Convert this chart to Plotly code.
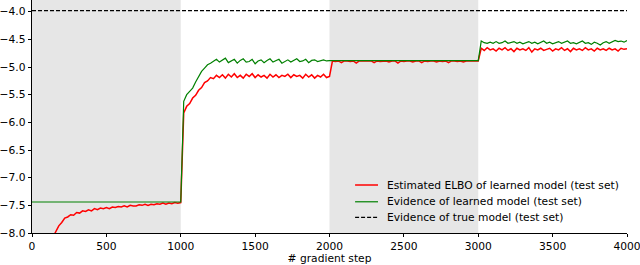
import plotly.graph_objects as go

# ---- data ----
elbo_steps = list(range(140, 4001, 20))
elbo = [
    # 140 .. 1000
    -8.08, -7.96, -7.87, -7.81, -7.73, -7.71, -7.67, -7.68, -7.63, -7.64,
    -7.60, -7.61, -7.58, -7.60, -7.56, -7.58, -7.55, -7.56, -7.54, -7.56,
    -7.53, -7.54, -7.52, -7.53, -7.51, -7.53, -7.50, -7.51, -7.51, -7.49,
    -7.50, -7.48, -7.50, -7.48, -7.49, -7.47, -7.48, -7.46, -7.48, -7.46,
    -7.47, -7.45, -7.46, -7.45,
    # 1020 .. 2000
    -5.83, -5.71, -5.66, -5.56, -5.51, -5.42, -5.37, -5.28, -5.25, -5.19,
    -5.21, -5.15, -5.19, -5.14, -5.20, -5.13, -5.18, -5.12, -5.19, -5.15,
    -5.20, -5.13, -5.17, -5.12, -5.19, -5.14, -5.18, -5.15, -5.20, -5.13,
    -5.18, -5.14, -5.19, -5.15, -5.17, -5.13, -5.19, -5.14, -5.17, -5.15,
    -5.20, -5.13, -5.18, -5.14, -5.20, -5.15, -5.18, -5.13, -5.19, -5.17,
    # 2020 .. 3000
    -4.89, -4.90, -4.89, -4.92, -4.89, -4.89, -4.90, -4.89, -4.93, -4.89,
    -4.89, -4.90, -4.89, -4.89, -4.92, -4.89, -4.90, -4.89, -4.89, -4.91,
    -4.89, -4.89, -4.93, -4.89, -4.90, -4.89, -4.89, -4.91, -4.89, -4.89,
    -4.92, -4.89, -4.90, -4.89, -4.89, -4.91, -4.89, -4.90, -4.89, -4.92,
    -4.89, -4.89, -4.90, -4.89, -4.91, -4.89, -4.89, -4.90, -4.89, -4.89,
    # 3020 .. 4000
    -4.66, -4.70, -4.65, -4.69, -4.67, -4.71, -4.66, -4.69, -4.65, -4.70,
    -4.67, -4.72, -4.66, -4.69, -4.67, -4.70, -4.65, -4.73, -4.67, -4.69,
    -4.66, -4.70, -4.68, -4.66, -4.71, -4.67, -4.69, -4.65, -4.70, -4.67,
    -4.72, -4.66, -4.69, -4.67, -4.70, -4.65, -4.69, -4.67, -4.71, -4.66,
    -4.69, -4.67, -4.70, -4.66, -4.69, -4.67, -4.71, -4.66, -4.68, -4.67,
]

evidence_steps = [0, 1000] + list(range(1020, 2001, 20)) + [3000] + list(range(3020, 4001, 20))
evidence = [
    -7.44, -7.44,
    # 1020 .. 2000
    -5.62, -5.50, -5.44, -5.38, -5.27, -5.16, -5.08, -5.02, -4.96, -4.93,
    -4.90, -4.86, -4.91, -4.88, -4.84, -4.92, -4.89, -4.86, -4.93, -4.88,
    -4.85, -4.91, -4.90, -4.86, -4.94, -4.89, -4.87, -4.92, -4.88, -4.85,
    -4.91, -4.89, -4.86, -4.93, -4.90, -4.87, -4.91, -4.88, -4.85, -4.90,
    -4.89, -4.86, -4.92, -4.88, -4.87, -4.90, -4.88, -4.87, -4.89, -4.885,
    # 3000
    -4.885,
    # 3020 .. 4000
    -4.53, -4.56, -4.57, -4.55, -4.57, -4.54, -4.57, -4.56, -4.53, -4.57,
    -4.56, -4.54, -4.57, -4.55, -4.58, -4.56, -4.54, -4.57, -4.55, -4.58,
    -4.56, -4.53, -4.57, -4.55, -4.58, -4.56, -4.54, -4.57, -4.55, -4.53,
    -4.57, -4.56, -4.58, -4.55, -4.53, -4.57, -4.56, -4.59, -4.55, -4.57,
    -4.60, -4.56, -4.54, -4.57, -4.55, -4.52, -4.54, -4.53, -4.55, -4.52,
]

true_steps = [0, 4000]
true_evidence = [-3.98, -3.98]

shaded_spans = [(0, 1000), (2000, 3000)]
x_ticks = [0, 500, 1000, 1500, 2000, 2500, 3000, 3500, 4000]
y_ticks = [-8.0, -7.5, -7.0, -6.5, -6.0, -5.5, -5.0, -4.5, -4.0]

names = [
    "Estimated ELBO of learned model (test set)",
    "Evidence of learned model (test set)",
    "Evidence of true model (test set)",
]
colors = ["#ff0000", "#008000", "black"]
widths = [1.5, 1.2, 1.1]
dashes = ["solid", "solid", "4px,2px"]

FONT = "DejaVu Sans"
FS = 10.7
LEG_FS = 10.7

fig = go.Figure()
fig.add_trace(go.Scatter(x=elbo_steps, y=elbo, mode="lines", name=names[0],
                         line=dict(color=colors[0], width=widths[0])))
fig.add_trace(go.Scatter(x=evidence_steps, y=evidence, mode="lines", name=names[1],
                         line=dict(color=colors[1], width=widths[1])))
fig.add_trace(go.Scatter(x=true_steps, y=true_evidence, mode="lines", name=names[2],
                         line=dict(color=colors[2], width=widths[2], dash=dashes[2])))

for x0, x1 in shaded_spans:
    fig.add_shape(type="rect", xref="x", yref="paper", x0=x0, x1=x1, y0=0, y1=1,
                  fillcolor="#e6e6e6", line=dict(width=0), layer="below")

# legend drawn inside the axes (matplotlib-style, compact rows)
leg_rows = [0.206, 0.134, 0.067]
for name, c, w, d, yy in zip(names, colors, widths, dashes, leg_rows):
    fig.add_shape(type="line", xref="paper", yref="paper", x0=0.543, x1=0.5815,
                  y0=yy, y1=yy, line=dict(color=c, width=w, dash=d))
    fig.add_annotation(xref="paper", yref="paper", x=0.594, y=yy, text=name,
                       showarrow=False, xanchor="left", yanchor="middle",
                       font=dict(family=FONT, size=LEG_FS, color="black"))

fig.update_layout(
    template="none",
    width=640, height=265,
    margin=dict(l=32, r=13, t=0, b=32, autoexpand=False),
    paper_bgcolor="white", plot_bgcolor="white",
    font=dict(family=FONT, size=FS, color="black"),
    showlegend=False,
    xaxis=dict(range=[0, 4000], tickvals=x_ticks, ticks="outside", ticklen=3.5,
               tickwidth=0.8, tickcolor="black", showline=True, linecolor="black",
               linewidth=0.8, showgrid=False, zeroline=False, automargin=False,
               ticklabeloverflow="allow",
               title=dict(text="# gradient step", standoff=2,
                          font=dict(family=FONT, size=FS))),
    yaxis=dict(range=[-8.0, -3.788], tickvals=y_ticks, tickformat=".1f",
               ticks="outside", ticklen=3.5, tickwidth=0.8, tickcolor="black",
               showline=True, linecolor="black", linewidth=0.8, showgrid=False,
               zeroline=False, automargin=False, ticklabeloverflow="allow"),
)

fig.write_html("out.html",
               config={"displayModeBar": False},
               post_script="document.body.style.margin='0';document.body.style.padding='0';")
